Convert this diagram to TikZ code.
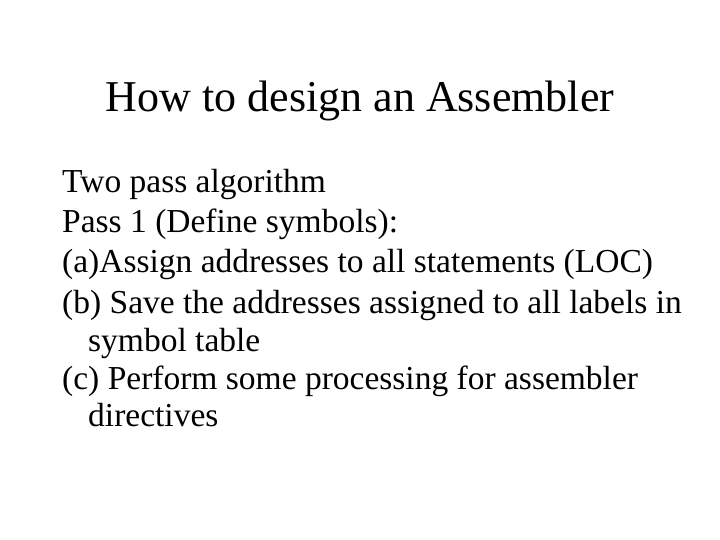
\documentclass[tikz,border=0pt]{standalone}
\usepackage{fontspec}
\setmainfont{Liberation Serif}
\begin{document}
\begin{tikzpicture}[x=1bp,y=-1bp,
  body/.style={anchor=base west,inner sep=0pt,font=\fontsize{33.5bp}{36bp}\selectfont}]
\useasboundingbox (0,0) rectangle (720,540);
\node[anchor=base,inner sep=0pt,font=\fontsize{44bp}{48bp}\selectfont] (title) at (360,112) {How to design an Assembler};
\node[body] (l1) at (62,193) {Two pass algorithm};
\node[body] (l2) at (62,233) {Pass 1 (Define symbols):};
\node[body] (l3) at (62,273) {(a)Assign addresses to all statements (LOC)};
\node[body] (l4) at (62,313) {(b) Save the addresses assigned to all labels in};
\node[body] (l5) at (88,351) {symbol table};
\node[body] (l6) at (62,389) {(c) Perform some processing for assembler};
\node[body] (l7) at (88,426) {directives};
\end{tikzpicture}
\end{document}
